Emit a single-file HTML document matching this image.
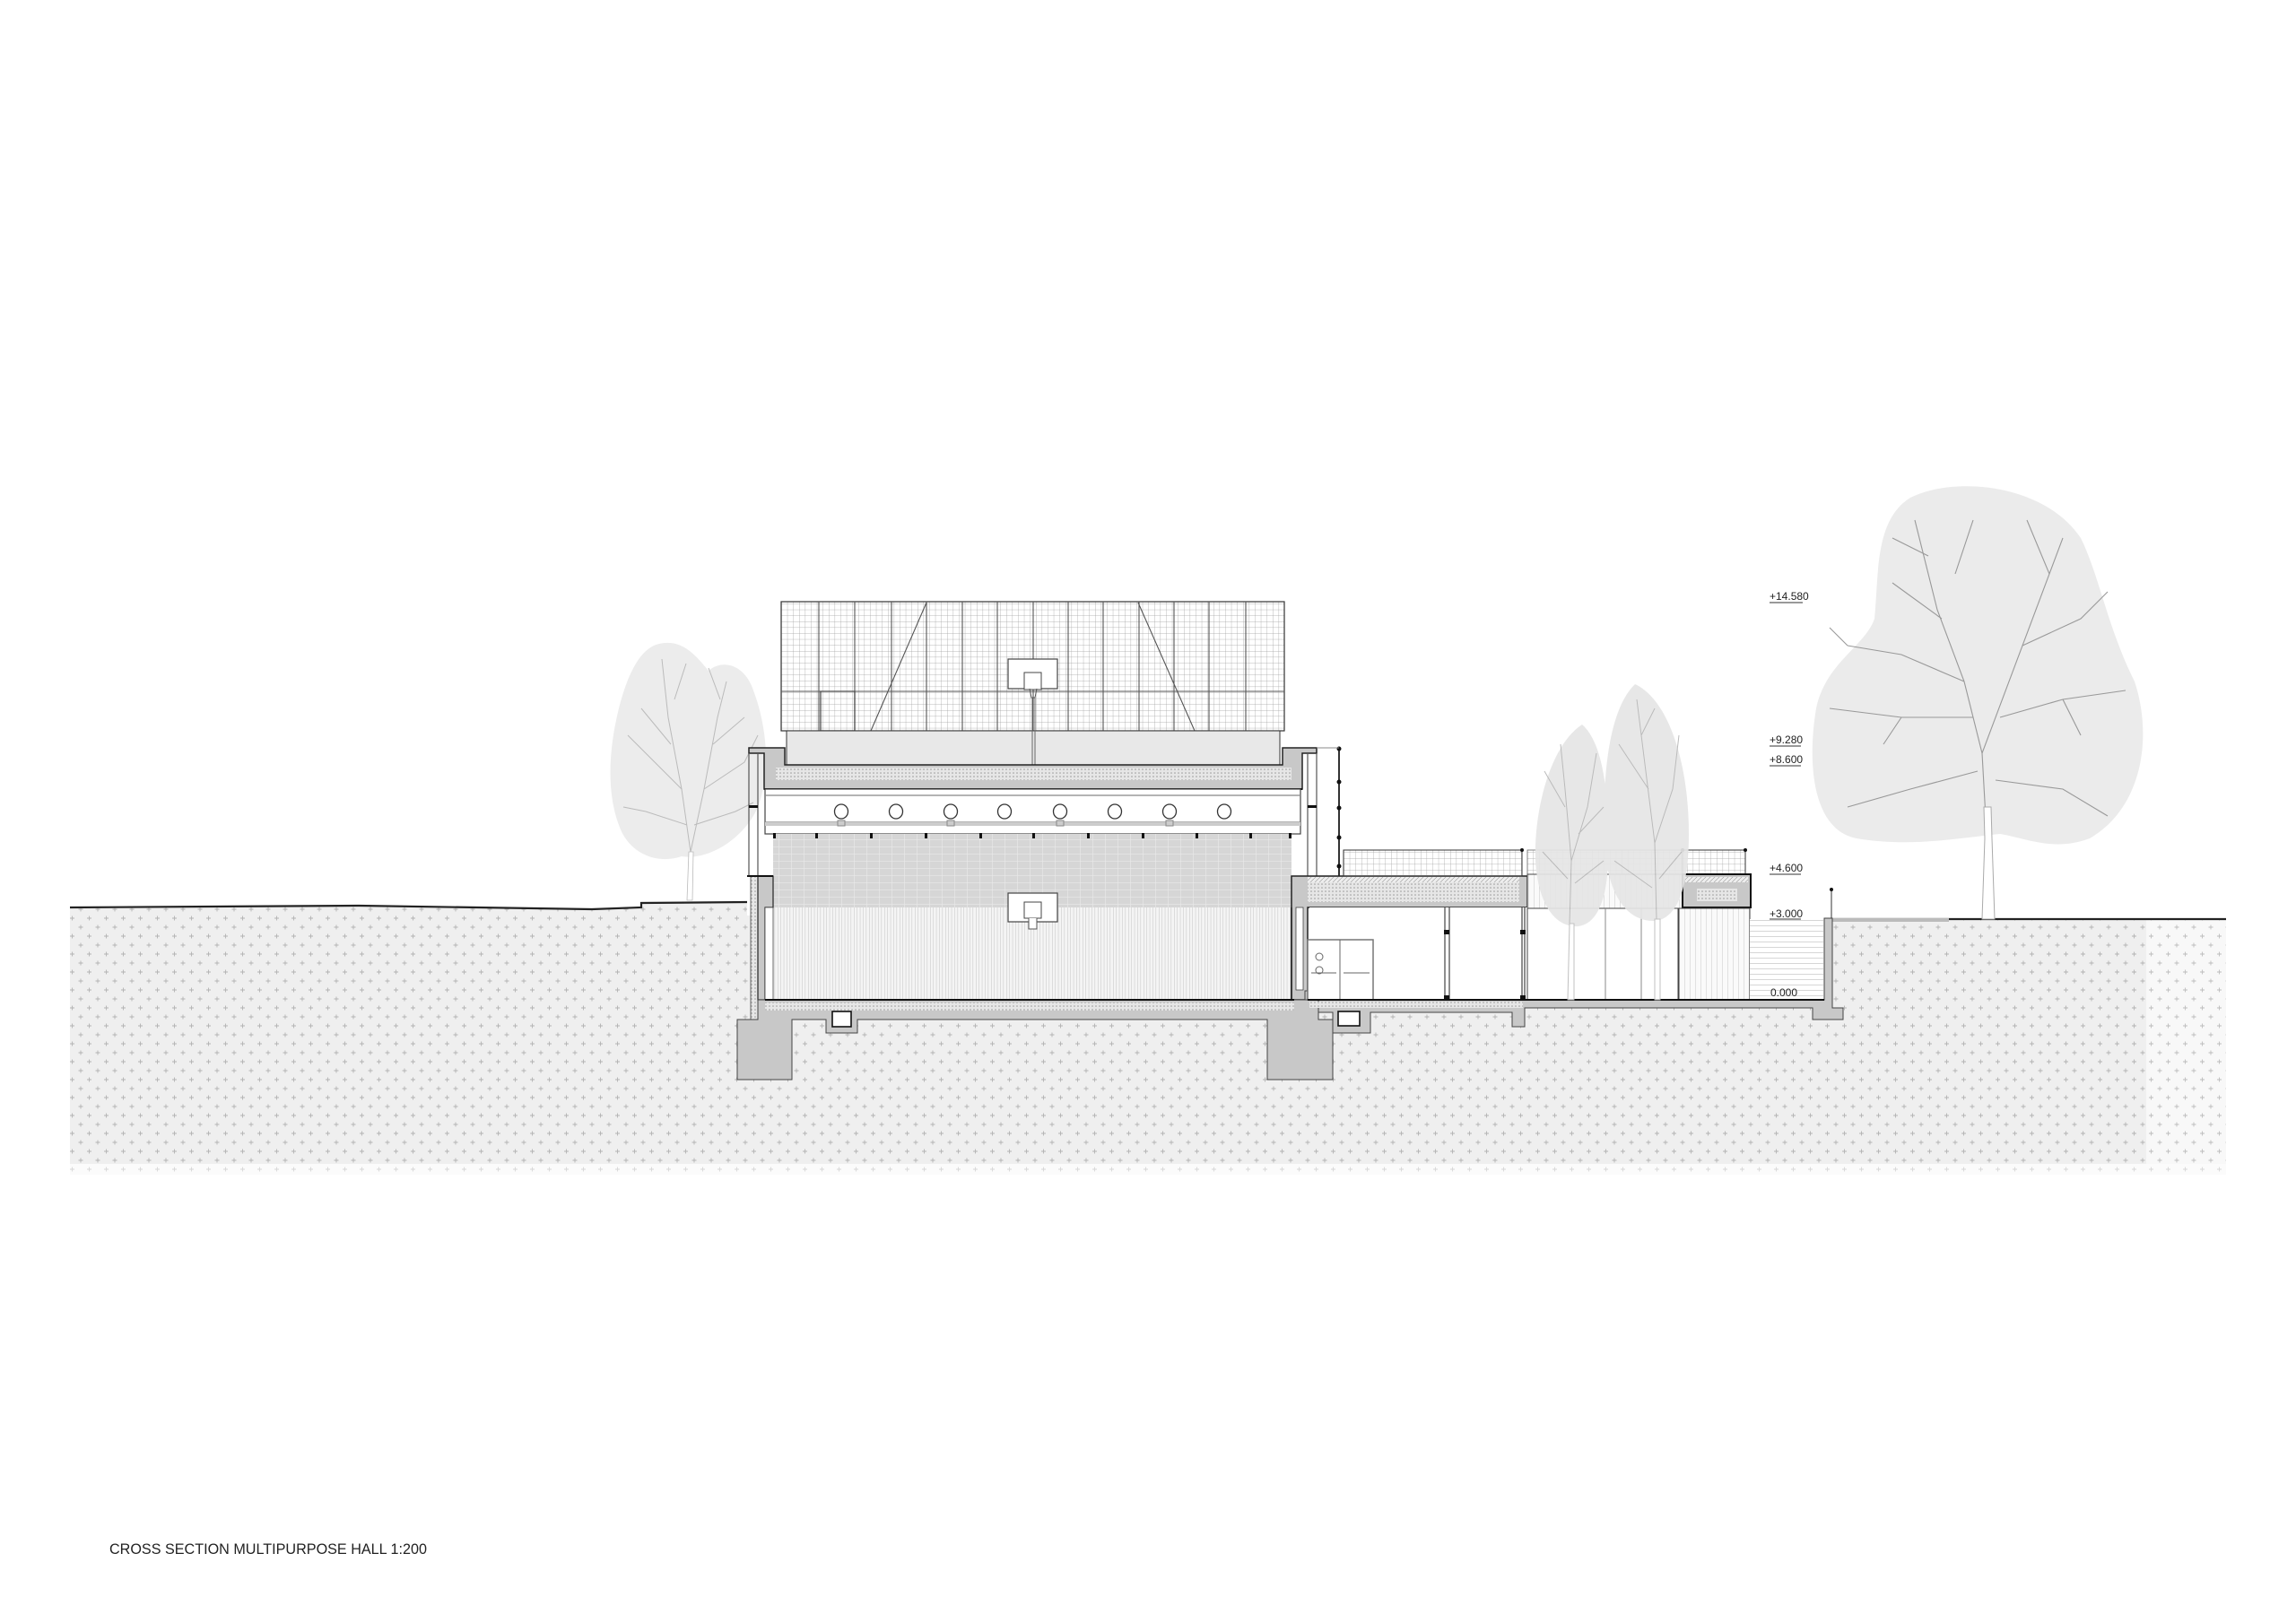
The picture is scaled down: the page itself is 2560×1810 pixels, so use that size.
<!DOCTYPE html>
<html><head><meta charset="utf-8"><style>
html,body{margin:0;padding:0;background:#fff;}
svg{display:block;}
text{font-family:"Liberation Sans Narrow","Liberation Sans",sans-serif;}
</style></head><body>
<svg width="2560" height="1810" viewBox="0 0 2560 1810" xmlns="http://www.w3.org/2000/svg">
<defs>
<pattern id="soil" width="19" height="20" patternUnits="userSpaceOnUse">
<rect width="19" height="20" fill="#efefef"/>
<path d="M2 4h5M4.5 1.5v5M11.5 14h5M14 11.5v5" stroke="#b3b3b3" stroke-width="0.9"/>
</pattern>
<pattern id="cross2" width="19" height="20" patternUnits="userSpaceOnUse">
<rect width="19" height="20" fill="#f8f8f8"/>
<path d="M2 4h5M4.5 1.5v5M11.5 14h5M14 11.5v5" stroke="#bdbdbd" stroke-width="0.9"/>
</pattern>
<pattern id="fine" width="6.6" height="6.6" patternUnits="userSpaceOnUse">
<path d="M0 0H6.6M0 0V6.6" stroke="#a0a0a0" stroke-width="0.7" fill="none"/>
</pattern>
<pattern id="tile" width="14" height="8" patternUnits="userSpaceOnUse">
<rect width="14" height="8" fill="#d6d6d6"/>
<path d="M0 0H14M0 0V8" stroke="#eaeaea" stroke-width="1.2" fill="none"/>
</pattern>
<pattern id="vstr" width="3.4" height="10" patternUnits="userSpaceOnUse">
<rect width="3.4" height="10" fill="#f4f4f4"/>
<path d="M0 0V10" stroke="#b8b8b8" stroke-width="0.8"/>
</pattern>
<pattern id="vstr2" width="6" height="10" patternUnits="userSpaceOnUse">
<rect width="6" height="10" fill="#fafafa"/>
<path d="M0 0V10" stroke="#bbb" stroke-width="0.8"/>
</pattern>
<pattern id="hstr" width="10" height="6" patternUnits="userSpaceOnUse">
<rect width="10" height="6" fill="#fff"/>
<path d="M0 0H10" stroke="#999" stroke-width="0.8"/>
</pattern>
<pattern id="ins" width="4" height="4" patternUnits="userSpaceOnUse">
<rect width="4" height="4" fill="#e6e6e6"/>
<circle cx="2" cy="2" r="0.8" fill="#999"/>
</pattern>
<pattern id="hatch" width="5" height="5" patternUnits="userSpaceOnUse">
<rect width="5" height="5" fill="#eee"/>
<path d="M0 5L5 0" stroke="#999" stroke-width="0.6"/>
</pattern>
</defs>

<!-- SOIL -->
<path d="M78 1012 L400 1010 L660 1014 L715 1012 L715 1007 L833 1006 L833 1021 L837 1021 L837 1298 L78 1298 Z" fill="url(#soil)"/>
<rect x="837" y="1121" width="1206" height="177" fill="url(#soil)"/>
<rect x="2043" y="1025" width="350" height="273" fill="url(#soil)"/>
<rect x="2393" y="1025" width="89" height="273" fill="url(#cross2)"/>
<rect x="78" y="1298" width="2404" height="12" fill="url(#cross2)" opacity="0.6"/>
<path d="M78 1012 L400 1010 L660 1014 L715 1012 L715 1007 L833 1006" fill="none" stroke="#222" stroke-width="2.2"/>
<path d="M2043 1025 H2482" stroke="#222" stroke-width="2.2"/>
<rect x="2043" y="1024" width="130" height="4" fill="#bbb"/>

<!-- LEFT TREE -->
<g>
<path d="M735 718 C760 712 775 730 790 748 C805 735 830 740 840 770 C855 810 860 860 845 900 C830 935 790 960 760 955 C730 965 700 950 690 920 C675 880 680 830 690 790 C700 750 715 722 735 718 Z" fill="#ececec"/>
<g stroke="#bbb" stroke-width="1" fill="none">
<path d="M768 1004 L770 950 L760 880 L745 800 L738 735"/><path d="M770 950 L785 880 L800 800 L810 760"/>
<path d="M760 880 L720 840 L700 820"/><path d="M785 880 L830 850 L845 820"/><path d="M748 830 L715 790"/><path d="M795 830 L830 800"/>
<path d="M766 920 L720 905 L695 900"/><path d="M774 920 L820 905 L840 895"/><path d="M752 780 L765 740"/><path d="M803 780 L790 745"/>
</g>
<path d="M766 1004 L768 950 L773 950 L772 1004 Z" fill="#fff" stroke="#bbb" stroke-width="0.8"/>
</g>

<!-- ROOF CAGE -->
<rect x="871" y="671" width="561" height="144" fill="url(#fine)" stroke="#333" stroke-width="1.2"/>
<g stroke="#555" stroke-width="1.1">
<path d="M913 671V815M953 671V815M994 671V815M1033 671V815M1073 671V815M1112 671V815M1152 671V815M1191 671V815M1230 671V815M1270 671V815M1309 671V815M1348 671V815M1389 671V815"/>
<path d="M871 771H1432"/>
<path d="M1033 672L971 815M1269 672L1332 815"/>
</g>
<rect x="915" y="771" width="38" height="44" fill="none" stroke="#444" stroke-width="1.2"/>
<rect x="877" y="815" width="550" height="39" fill="#e8e8e8" stroke="#333" stroke-width="1"/>
<rect x="1124" y="735" width="55" height="33" fill="#fff" stroke="#444" stroke-width="1.2"/>
<rect x="1142" y="750" width="19" height="19" fill="#fff" stroke="#444" stroke-width="1"/>
<path d="M1148 768L1150 778H1154L1156 768" fill="none" stroke="#555"/>
<path d="M1151 778V854M1154 778V854" stroke="#666" stroke-width="1"/>

<!-- ROOF SLAB -->
<path d="M835 834 H875 V853 H1430 V834 H1468 V840 H1452 V880 H852 V840 H835 Z" fill="#c8c8c8" stroke="#222" stroke-width="1.5"/>
<rect x="865" y="856" width="575" height="14" fill="url(#ins)"/>
<path d="M852 880 H1452" stroke="#111" stroke-width="2"/>
<rect x="853" y="880" width="597" height="50" fill="#fff" stroke="#444" stroke-width="1.2"/>
<path d="M853 887H1450M853 917H1450" stroke="#888" stroke-width="1.2"/>
<rect x="853" y="917" width="597" height="4" fill="#ccc"/>
<g fill="#fff" stroke="#333" stroke-width="1.3">
<ellipse cx="938" cy="905" rx="7.5" ry="8"/><ellipse cx="999" cy="905" rx="7.5" ry="8"/><ellipse cx="1060" cy="905" rx="7.5" ry="8"/><ellipse cx="1120" cy="905" rx="7.5" ry="8"/><ellipse cx="1182" cy="905" rx="7.5" ry="8"/><ellipse cx="1243" cy="905" rx="7.5" ry="8"/><ellipse cx="1304" cy="905" rx="7.5" ry="8"/><ellipse cx="1365" cy="905" rx="7.5" ry="8"/>
</g>
<g fill="#ccc" stroke="#888"><rect x="934" y="915" width="8" height="6"/><rect x="1056" y="915" width="8" height="6"/><rect x="1178" y="915" width="8" height="6"/><rect x="1300" y="915" width="8" height="6"/></g>
<path d="M835 840V977M845 840V977M1458 840V977M1468 840V977" stroke="#555" stroke-width="1.2"/>
<rect x="835" y="898" width="10" height="3" fill="#111"/><rect x="1458" y="898" width="10" height="3" fill="#111"/>
<path d="M1493 834V977" stroke="#333" stroke-width="2"/>
<g fill="#111"><circle cx="1493" cy="835" r="2.5"/><circle cx="1493" cy="872" r="2.5"/><circle cx="1493" cy="901" r="2.5"/><circle cx="1493" cy="934" r="2.5"/><circle cx="1493" cy="966" r="2.5"/></g>
<path d="M1468 834H1493" stroke="#888"/>

<!-- HALL -->
<rect x="862" y="930" width="578" height="82" fill="url(#tile)"/>
<rect x="862" y="1012" width="578" height="103" fill="url(#vstr)"/>
<g fill="#111"><rect x="862" y="929" width="3" height="6"/><rect x="909" y="929" width="3" height="6"/><rect x="970" y="929" width="3" height="6"/><rect x="1031" y="929" width="3" height="6"/><rect x="1092" y="929" width="3" height="6"/><rect x="1151" y="929" width="3" height="6"/><rect x="1212" y="929" width="3" height="6"/><rect x="1273" y="929" width="3" height="6"/><rect x="1333" y="929" width="3" height="6"/><rect x="1393" y="929" width="3" height="6"/><rect x="1437" y="929" width="3" height="6"/></g>
<rect x="1124" y="996" width="55" height="32" fill="#fff" stroke="#444" stroke-width="1.2"/>
<rect x="1142" y="1006" width="19" height="18" fill="#fff" stroke="#444"/>
<path d="M1147 1024V1036H1156V1024" fill="#fff" stroke="#555"/>
<rect x="837" y="977" width="8" height="160" fill="url(#ins)" stroke="#444" stroke-width="0.8"/>
<path d="M845 977 H862 V1012 H853 V1115 H845 Z" fill="#c8c8c8" stroke="#222" stroke-width="1.2"/>
<rect x="853" y="1012" width="9" height="103" fill="#fff" stroke="#444" stroke-width="0.8"/>
<path d="M833 977H862" stroke="#111" stroke-width="2"/>
<path d="M1440 977 H1703 V1012 H1458 V1115 H1440 Z" fill="#c8c8c8" stroke="#222" stroke-width="1.5"/>
<rect x="1458" y="982" width="236" height="24" fill="url(#ins)"/>
<rect x="1458" y="978" width="236" height="6" fill="url(#hatch)"/>
<rect x="1445" y="1012" width="8" height="92" fill="#fff" stroke="#444" stroke-width="0.8"/>
<path d="M1440 1012V1115" stroke="#222" stroke-width="1.5"/>
<path d="M845 1115 H1455 V1105 H1470 V1137 H1486 V1204 H1413 V1137 H956 V1152 H921 V1137 H883 V1204 H822 V1137 H845 Z" fill="#c8c8c8" stroke="#444" stroke-width="1"/>
<rect x="853" y="1118" width="590" height="9" fill="url(#ins)"/>
<path d="M853 1115H1443" stroke="#111" stroke-width="2"/>
<rect x="928" y="1128" width="21" height="17" fill="#fff" stroke="#111" stroke-width="1.6"/>
<rect x="1470" y="1105" width="12" height="10" fill="#fff"/>

<!-- ANNEX -->
<rect x="1498" y="948" width="199" height="29" fill="url(#fine)" stroke="#333" stroke-width="1"/>
<rect x="1703" y="948" width="173" height="27" fill="url(#fine)" stroke="#666" stroke-width="0.8"/>
<rect x="1876" y="948" width="70" height="27" fill="url(#fine)" stroke="#333" stroke-width="1"/>
<g fill="#111"><circle cx="1697" cy="948" r="2"/><circle cx="1876" cy="948" r="2"/><circle cx="1946" cy="948" r="2"/></g>
<rect x="1703" y="975" width="173" height="38" fill="url(#vstr2)" stroke="#444" stroke-width="1"/>
<path d="M1876 975 H1952 V1012 H1876 Z" fill="#c8c8c8" stroke="#111" stroke-width="2"/>
<rect x="1879" y="978" width="70" height="6" fill="url(#hatch)"/>
<rect x="1892" y="991" width="45" height="14" fill="url(#ins)"/>
<rect x="1460" y="1012" width="243" height="103" fill="#fff"/>
<rect x="1703" y="1013" width="168" height="102" fill="#fff" stroke="#444" stroke-width="1"/>
<path d="M1790 1013V1115M1830 1013V1115" stroke="#888"/>
<rect x="1872" y="1013" width="79" height="102" fill="url(#vstr2)" stroke="#444" stroke-width="1"/>
<rect x="1951" y="1025" width="82" height="90" fill="url(#hstr)"/>
<path d="M1611 1012V1115M1616 1012V1115M1697 1012V1115M1700 1012V1115" stroke="#444" stroke-width="1.2"/>
<g fill="#111"><rect x="1610" y="1037" width="6" height="5"/><rect x="1695" y="1037" width="6" height="5"/><rect x="1610" y="1110" width="6" height="5"/><rect x="1695" y="1110" width="6" height="5"/></g>
<rect x="1458" y="1048" width="73" height="67" fill="#fff" stroke="#777" stroke-width="1.5"/>
<path d="M1494 1048V1115M1462 1085H1490M1498 1085H1527" stroke="#666" stroke-width="1"/>
<circle cx="1471" cy="1067" r="4" fill="none" stroke="#666"/><circle cx="1471" cy="1082" r="4" fill="none" stroke="#666"/>
<path d="M1455 1115 H2034 V1024 H2043 V1124 H2055 V1137 H2021 V1124 H1700 V1145 H1686 V1129 H1528 V1152 H1486 V1129 H1470 V1115 Z" fill="#c8c8c8" stroke="#444" stroke-width="1"/>
<rect x="1460" y="1117" width="238" height="7" fill="url(#ins)"/>
<path d="M1458 1115H2034" stroke="#111" stroke-width="2"/>
<rect x="1492" y="1128" width="24" height="16" fill="#fff" stroke="#111" stroke-width="1.6"/>
<path d="M2042 1024V992" stroke="#333" stroke-width="1"/><circle cx="2042" cy="992" r="2" fill="#111"/>

<!-- POPLARS -->
<g opacity="0.92">
<path d="M1764 808 C1790 830 1795 900 1793 960 C1792 1000 1782 1030 1760 1033 C1735 1035 1715 1010 1712 960 C1710 900 1730 830 1764 808 Z" fill="#e6e6e6"/>
<path d="M1823 763 C1860 780 1883 850 1883 930 C1883 990 1870 1025 1845 1027 C1815 1028 1792 1000 1789 940 C1786 860 1795 790 1823 763 Z" fill="#e6e6e6"/>
<g stroke="#b5b5b5" stroke-width="1" fill="none">
<path d="M1750 1030L1752 960L1745 880L1740 830M1752 960L1770 900L1780 840M1745 900L1722 860M1760 930L1788 900M1748 980L1720 950M1756 985L1788 960"/>
<path d="M1847 1025L1845 940L1835 860L1825 780M1845 940L1865 880L1872 820M1838 880L1805 830M1850 980L1875 950M1842 990L1800 960M1830 820L1845 790"/>
</g>
<path d="M1748 1115L1750 1030H1755L1755 1115Z" fill="#fff" stroke="#bbb"/>
<path d="M1845 1115L1845 1025H1851L1851 1115Z" fill="#fff" stroke="#bbb"/>
</g>

<!-- BIG TREE -->
<path d="M2130 555 C2180 530 2280 540 2320 600 C2340 640 2350 700 2380 760 C2400 820 2390 900 2330 935 C2290 950 2260 935 2230 930 C2180 935 2130 945 2070 935 C2020 925 2015 850 2025 790 C2035 740 2080 720 2090 690 C2095 640 2090 580 2130 555 Z" fill="#ebebeb"/>
<g stroke="#999" stroke-width="1.1" fill="none">
<path d="M2215 930L2210 840L2190 760L2160 680L2135 580"/>
<path d="M2210 840L2240 760L2270 680L2300 600"/>
<path d="M2190 760L2120 730L2060 720"/><path d="M2200 800L2120 800L2040 790"/><path d="M2205 860L2130 880L2060 900"/>
<path d="M2230 800L2300 780L2370 770"/><path d="M2225 870L2300 880L2350 910"/><path d="M2255 720L2320 690L2350 660"/>
<path d="M2165 690L2110 650"/><path d="M2180 640L2200 580"/><path d="M2285 640L2260 580"/><path d="M2150 620L2110 600"/>
<path d="M2060 720L2040 700"/><path d="M2120 800L2100 830"/><path d="M2300 780L2320 820"/>
</g>
<path d="M2210 1025 L2213 935 L2212 900 L2220 900 L2221 935 L2224 1025 Z" fill="#fff" stroke="#aaa"/>

<!-- LEVELS -->
<g font-size="12" fill="#222">
<text x="1973" y="669">+14.580</text>
<text x="1973" y="829">+9.280</text>
<text x="1973" y="851">+8.600</text>
<text x="1973" y="972">+4.600</text>
<text x="1973" y="1023">+3.000</text>
<text x="1974" y="1111">0.000</text>
</g>
<g stroke="#333" stroke-width="1"><path d="M1973 672H2010M1973 832H2008M1973 854H2008M1973 975H2008M1973 1025H2008"/></g>

<text x="122" y="1733" font-size="17" fill="#222" textLength="354" lengthAdjust="spacingAndGlyphs" style="font-family:'Liberation Sans',sans-serif">CROSS SECTION MULTIPURPOSE HALL 1:200</text>
</svg>
</body></html>
